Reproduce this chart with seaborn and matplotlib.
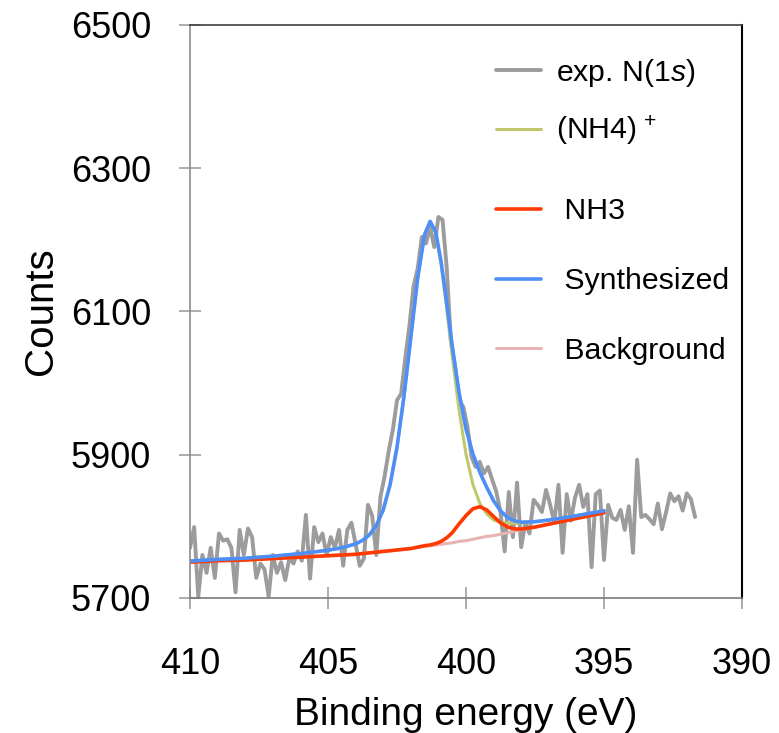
import numpy as np
import pandas as pd
import matplotlib
matplotlib.use("Agg")
import matplotlib.pyplot as plt
import seaborn as sns

exp_energy = np.round(np.arange(410, 391.65, -0.15), 2)
exp_counts = [
    5770, 5799, 5702, 5760, 5735, 5770, 5728, 5790, 5780, 5782,
    5770, 5708, 5795, 5760, 5797, 5785, 5728, 5748, 5740, 5702,
    5760, 5735, 5750, 5725, 5756, 5748, 5765, 5752, 5816, 5727,
    5799, 5778, 5790, 5760, 5785, 5770, 5795, 5745, 5795, 5805,
    5775, 5745, 5755, 5830, 5815, 5760, 5841, 5870, 5905, 5935,
    5976, 5985, 6035, 6080, 6135, 6160, 6204, 6195, 6218, 6190,
    6232, 6228, 6162, 6060, 6023, 5976, 5967, 5940, 5897, 5883,
    5890, 5874, 5883, 5865, 5848, 5820, 5765, 5848, 5785, 5861,
    5771, 5805, 5790, 5837, 5830, 5820, 5851, 5830, 5805, 5858,
    5763, 5845, 5808, 5840, 5858, 5827, 5845, 5743, 5845, 5850,
    5753, 5830, 5812, 5809, 5823, 5795, 5828, 5763, 5893, 5813,
    5816, 5810, 5803, 5832, 5796, 5820, 5846, 5835, 5842, 5822,
    5846, 5838, 5813,
]

# fitted components
fit_energy = [410, 409, 408, 407, 406, 405, 404.5, 404, 403.75, 403.5,
              403.25, 403, 402.75, 402.5, 402.25, 402, 401.75, 401.5, 401.3,
              401.1, 400.9, 400.7, 400.5, 400.25, 400, 399.75, 399.5, 399.25,
              399, 398.75, 398.5, 398.25, 398, 397.5, 397, 396.5, 396, 395.5, 395]
nh4_counts = [5751.5, 5753.9, 5755.5, 5758.4, 5761.9, 5766.7, 5770.1, 5775.5,
              5780.4, 5788.1, 5801.1, 5822.9, 5858.1, 5910.4, 5980.7, 6063.5,
              6146.7, 6207.3, 6225.0, 6209.3, 6165.1, 6104.1, 6037.9, 5962.0,
              5900.7, 5858.5, 5832.2, 5817.5, 5809.0, 5805.6, 5804.4, 5804.2,
              5804.6, 5806.4, 5808.8, 5811.7, 5814.9, 5818.3, 5821.8]
nh3_counts = [5750, 5752, 5753, 5755, 5757, 5759, 5760, 5761, 5762, 5763,
              5764, 5765, 5766, 5767, 5768, 5769, 5771, 5773, 5774, 5776,
              5779, 5784, 5791, 5803.5, 5815, 5824.6, 5827.4, 5823, 5813.7,
              5805, 5799.2, 5796.5, 5796.2, 5799, 5803, 5807, 5811, 5815, 5819]
synth_counts = [5751.5, 5753.9, 5755.5, 5758.4, 5761.9, 5766.7, 5770.1, 5775.5,
                5780.4, 5788.1, 5801.1, 5822.9, 5858.1, 5910.4, 5980.7, 6063.5,
                6146.7, 6207.7, 6225.8, 6211.2, 6169.3, 6112.3, 6052.2, 5986.5,
                5935.9, 5901.1, 5875.6, 5854.6, 5835.7, 5821.7, 5812.6, 5807.7,
                5805.8, 5806.5, 5808.8, 5811.7, 5814.9, 5818.3, 5821.8]
bg_counts = [5750, 5752, 5753, 5755, 5757, 5759, 5760, 5761, 5762, 5763,
             5764, 5765, 5766, 5767, 5768, 5769, 5771, 5772, 5773, 5774,
             5775, 5776, 5777, 5779, 5780, 5782, 5784, 5786, 5787, 5789,
             5791, 5793, 5795, 5799, 5803, 5807, 5811, 5815, 5819]

x_ticks = [410, 405, 400, 395, 390]
y_ticks = [5700, 5900, 6100, 6300, 6500]

sns.set_style("white")
plt.rcParams["font.family"] = ["Liberation Sans", "DejaVu Sans"]
plt.rcParams["mathtext.fontset"] = "custom"
plt.rcParams["mathtext.rm"] = "Liberation Sans"
plt.rcParams["mathtext.it"] = "Liberation Sans:italic"
plt.rcParams["text.color"] = "black"
plt.rcParams["axes.labelcolor"] = "black"

exp_df = pd.DataFrame({"energy": exp_energy, "counts": exp_counts})
fit_df = pd.DataFrame({"energy": fit_energy, "nh4": nh4_counts, "nh3": nh3_counts,
                       "synth": synth_counts, "bg": bg_counts})

fig = plt.figure(figsize=(7.79, 7.33), dpi=100)
ax = fig.add_axes([0.2439, 0.1842, 0.7086, 0.7817])

sns.lineplot(data=exp_df, x="energy", y="counts", ax=ax, color="#9c9c9c",
             lw=2.8, estimator=None, label="exp. N($\\mathit{1s}$)")
sns.lineplot(data=fit_df, x="energy", y="bg", ax=ax, color="#e8b3b3",
             lw=2.2, estimator=None, label=" Background")
sns.lineplot(data=fit_df, x="energy", y="nh4", ax=ax, color="#bfc96c",
             lw=2.2, estimator=None, label="(NH4)$^{\\,+}$")
sns.lineplot(data=fit_df, x="energy", y="nh3", ax=ax, color="#ff3a00",
             lw=2.6, estimator=None, label=" NH3")
sns.lineplot(data=fit_df, x="energy", y="synth", ax=ax, color="#4d8ef8",
             lw=2.6, estimator=None, label=" Synthesized")

ax.set_xlim(410, 390)
ax.set_ylim(5700, 6500)
ax.set_xticks(x_ticks)
ax.set_yticks(y_ticks)
ax.tick_params(axis="both", direction="inout", length=16, width=1.2,
               color="#a0a0a0", labelsize=26, labelcolor="black",
               bottom=True, left=True)
ax.tick_params(axis="x", pad=27)
ax.tick_params(axis="y", pad=20)
ax.set_xlabel("Binding energy (eV)", fontsize=28, labelpad=11)
ax.set_ylabel("Counts", fontsize=29, labelpad=8)

ax.spines["left"].set_color("#8c8c8c")
ax.spines["bottom"].set_color("#7a7a7a")
ax.spines["top"].set_color("#404040")
ax.spines["right"].set_color("#000000")
for s in ["left", "bottom", "top"]:
    ax.spines[s].set_linewidth(1.2)
ax.spines["right"].set_linewidth(1.5)

h, l = ax.get_legend_handles_labels()
leg_opts = dict(loc="upper left", frameon=False, fontsize=21.8,
                handlelength=1.5, handletextpad=0.5, borderpad=0,
                borderaxespad=0)
leg1 = ax.legend([h[0], h[2]], [l[0], l[2]], bbox_to_anchor=(0.554, 0.945),
                 labelspacing=0.83, **leg_opts)
ax.add_artist(leg1)
ax.legend([h[3], h[4], h[1]], [l[3], l[4], l[1]], bbox_to_anchor=(0.554, 0.699),
          labelspacing=1.38, **leg_opts)

fig.savefig("out.png", dpi=100)
